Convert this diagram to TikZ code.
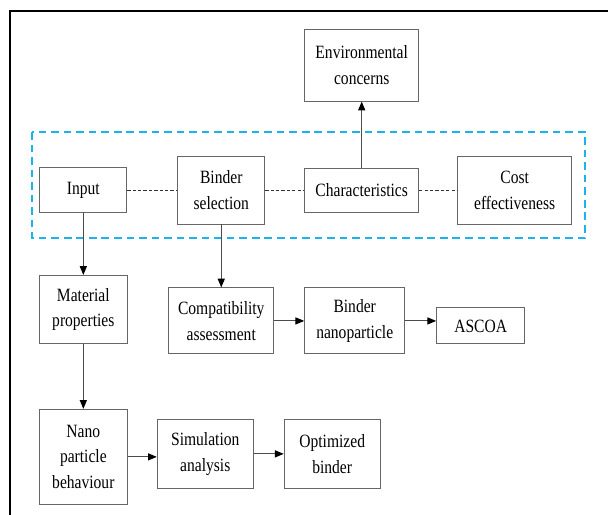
\documentclass[tikz,border=0pt]{standalone}
\usepackage{fontspec}
\setmainfont[FakeStretch=0.83]{Liberation Serif}
\usepackage{xcolor}
\usepackage{tikz}
\usetikzlibrary{positioning, calc, arrows.meta}

\definecolor{groupblue}{HTML}{1CB2EE}

\begin{document}
\begin{tikzpicture}[
        % Style for the process boxes
        block/.style={
            draw=black!60,
            line width=0.8pt,
            inner sep=2pt,
            align=center,
            font=\fontsize{16}{22}\selectfont
        },
        flow/.style={
            draw=black!70,
            line width=0.9pt,
            -{Triangle[length=7.5pt, width=6pt, black]}
        },
        link/.style={
            draw=black!80,
            line width=0.7pt,
            dash pattern=on 2.8pt off 1.8pt
        },
        node distance=0cm
    ]

    % page size and partial frame
    \useasboundingbox (0,0) rectangle (18.24,-15.45);
    \draw[line width=1.8pt] (0.29,-15.45) -- (0.29,-0.33) -- (18.24,-0.33);

    % ==========================================
    % MIDDLE ROW (inside the dashed group)
    % ==========================================

    \node[block, minimum width=2.61cm, minimum height=1.35cm] (Input) at (2.5,-5.7) {Input};
    \node[block, minimum width=2.61cm, minimum height=2.04cm, right=1.5cm of Input] (Binder_sel) {Binder\\selection};
    \node[block, minimum width=3.42cm, minimum height=1.32cm, right=1.17cm of Binder_sel] (Charac) {Characteristics};
    \node[block, minimum width=3.42cm, minimum height=2.04cm, right=1.14cm of Charac] (Cost) {Cost\\effectiveness};

    % dotted links between the row boxes
    \draw[link] (Input.east) -- (Binder_sel.west);
    \draw[link] (Binder_sel.east) -- (Charac.west);
    \draw[link] (Charac.east) -- (Cost.west);

    % dashed blue group box
    \draw[groupblue, line width=1.8pt, dash pattern=on 6.5pt off 4.2pt] (0.96,-3.96) rectangle (17.55,-7.14);

    % top box
    \node[block, minimum width=3.42cm, minimum height=2.16cm, above=1.98cm of Charac] (Env) {Environmental\\concerns};
    \draw[flow] (Charac.north) -- (Env.south);

    % ==========================================
    % LEFT COLUMN AND BOTTOM ROW
    % ==========================================

    \node[block, minimum width=2.64cm, minimum height=2.04cm, below=1.86cm of Input] (Mat_prop) {Material\\properties};
    \node[block, minimum width=2.64cm, minimum height=2.85cm, below=1.95cm of Mat_prop] (Nano_beh) {Nano\\particle\\behaviour};
    \node[block, minimum width=2.88cm, minimum height=2.07cm, right=0.87cm of Nano_beh, yshift=0.09cm] (Sim) {Simulation\\analysis};
    \node[block, minimum width=2.88cm, minimum height=2.07cm, right=0.9cm of Sim] (Opt) {Optimized\\binder};

    \draw[flow] (Input.south) -- (Mat_prop.north);
    \draw[flow] (Mat_prop.south) -- (Nano_beh.north);
    \draw[flow] (Nano_beh.east) -- (Nano_beh.east -| Sim.west);
    \draw[flow] (Sim.east) -- (Opt.west);

    % ==========================================
    % SECOND ROW (from binder selection)
    % ==========================================

    \node[block, minimum width=3.15cm, minimum height=1.98cm, below=1.89cm of Binder_sel] (Compat) {Compatibility\\assessment};
    \node[block, minimum width=3.0cm, minimum height=1.98cm, right=0.9cm of Compat] (Bind_nano) {Binder\\nanoparticle};
    \node[block, minimum width=2.64cm, minimum height=1.08cm, right=0.93cm of Bind_nano, yshift=-0.15cm] (Ascoa) {ASCOA};

    \draw[flow] (Binder_sel.south) -- (Binder_sel.south |- Compat.north);
    \draw[flow] (Compat.east) -- (Bind_nano.west);
    \draw[flow] (Bind_nano.east) -- (Bind_nano.east -| Ascoa.west);

\end{tikzpicture}
\end{document}
